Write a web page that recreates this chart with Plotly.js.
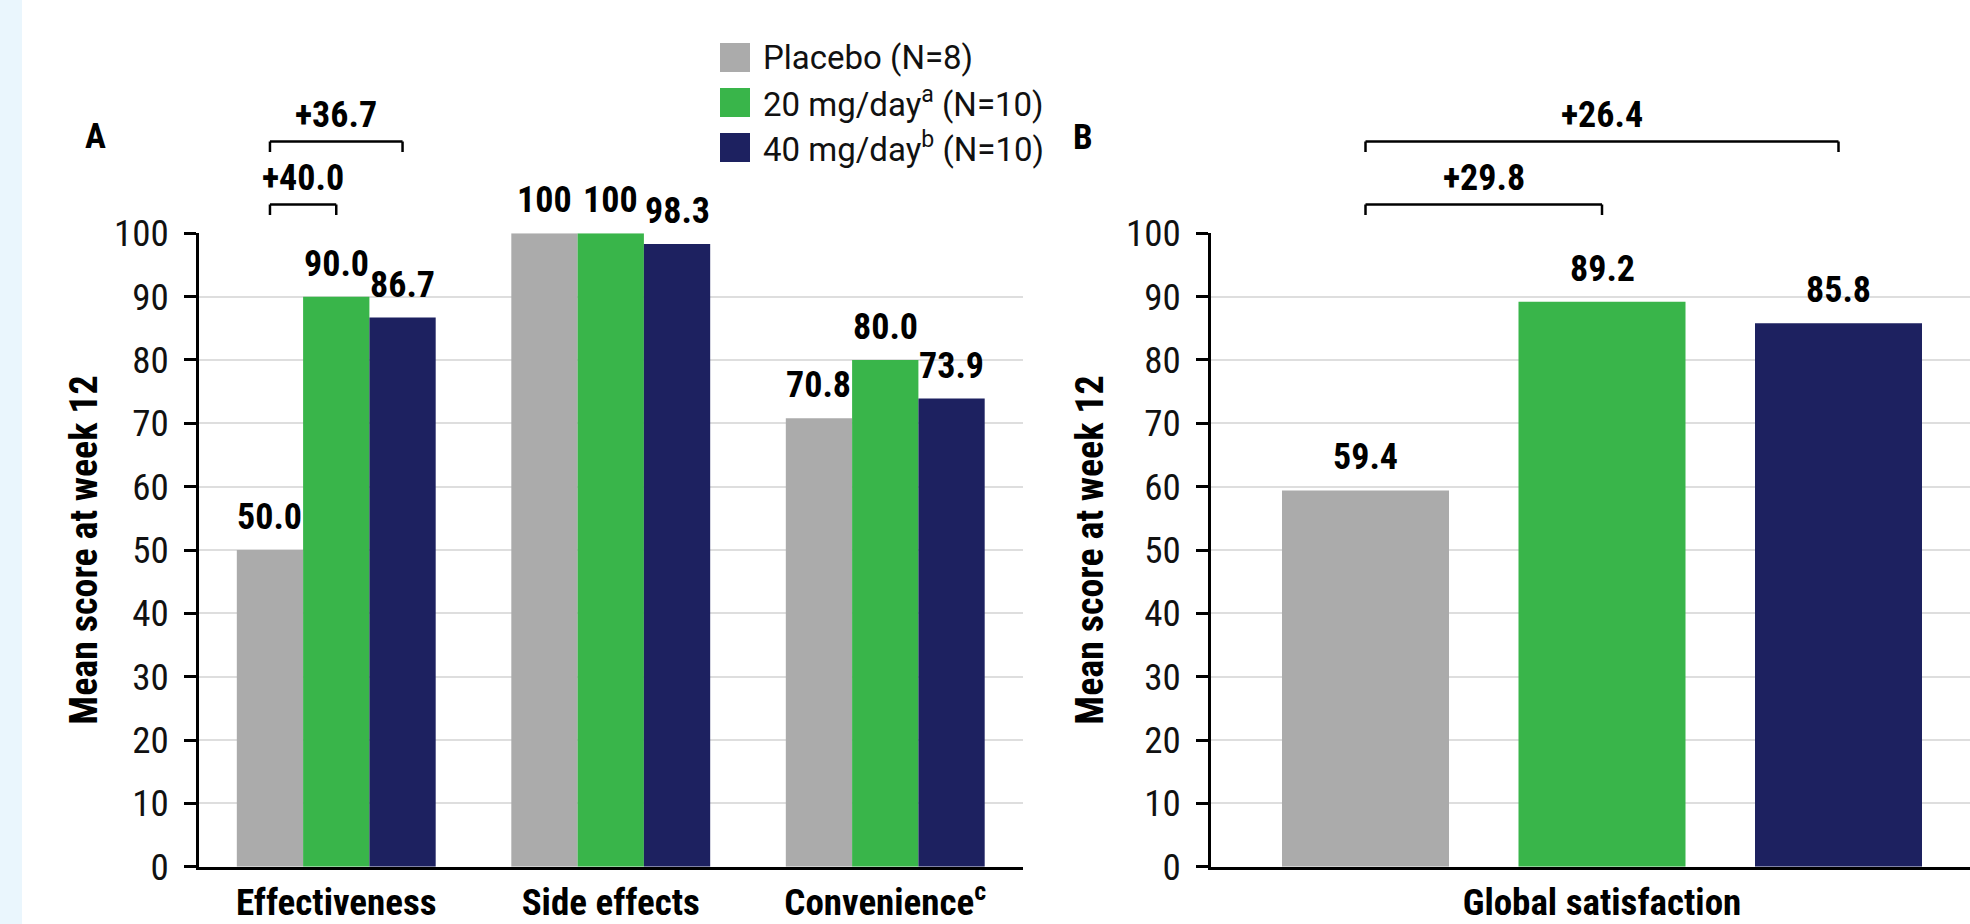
<!DOCTYPE html>
<html>
<head>
<meta charset="utf-8">
<script src="https://cdn.plot.ly/plotly-3.0.1.min.js"></script>
<style>
  html, body { margin: 0; padding: 0; background: #ffffff; overflow: hidden; }
  #chart { width: 1970px; height: 924px; }
</style>
</head>
<body>
<div id="chart"></div>
<script>
// ---------------- data ----------------
const categoriesA = ['Effectiveness', 'Side effects', 'Convenience<sup>c</sup>'];
const categoriesB = ['Global satisfaction'];
const seriesNames = ['Placebo (N=8)', '20 mg/day<sup>a</sup> (N=10)', '40 mg/day<sup>b</sup> (N=10)'];
const placeboA = [50.0, 100, 70.8];
const mg20A    = [90.0, 100, 80.0];
const mg40A    = [86.7, 98.3, 73.9];
const placeboB = [59.4];
const mg20B    = [89.2];
const mg40B    = [85.8];
const yTicks   = [0, 10, 20, 30, 40, 50, 60, 70, 80, 90, 100];
const yTitle   = 'Mean score at week 12';
const panelLabels = ['A', 'B'];

// ---------------- style ----------------
const W = 1970, H = 924;
const colors = ['#ABABAB', '#39B54A', '#1D2160'];
const COND = "'Roboto Condensed', 'Liberation Sans Narrow', 'DejaVu Sans Condensed', Roboto, sans-serif";
const REG = "Roboto, 'Noto Sans', sans-serif";
const px = x => x / W;
const py = y => 1 - y / H;

// left panel geometry
const xDomA = [px(199), px(1022.5)];
const barWA = 0.2415;               // fraction of category slot
const slotA = barWA;
// right panel geometry
const catWB = 782;                  // px of one category on panel B
const xDomB = [px(1211), 1];
const barWB = 167 / catWB;
const slotB = 236.5 / catWB;
const yDom = [py(866.7), py(233.3)];

const fmt = v => (v === 100 ? '100' : v.toFixed(1));
const seriesA = [placeboA, mg20A, mg40A];
const seriesB = [placeboB, mg20B, mg40B];

const traces = [];
const annotations = [];
const shapes = [];

function addPanel(series, cats, xa, ya, barW, slot) {
  series.forEach((vals, i) => {
    const centre = (i - 1) * slot;
    traces.push({
      type: 'bar',
      name: seriesNames[i],
      x: cats.map((c, k) => k),
      y: vals,
      xaxis: xa, yaxis: ya,
      width: barW,
      offset: centre - barW / 2,
      marker: { color: colors[i], line: { width: 0 } },
      showlegend: false,
      hoverinfo: 'skip'
    });
    vals.forEach((v, k) => {
      annotations.push({
        xref: xa, yref: ya, x: k + centre, y: v,
        xanchor: 'center', yanchor: 'bottom', yshift: 10,
        text: fmt(v), showarrow: false,
        font: { family: COND, size: 36, color: '#000', weight: 700 }
      });
    });
  });
}
addPanel(seriesA, categoriesA, 'x', 'y', barWA, slotA);
addPanel(seriesB, categoriesB, 'x2', 'y2', barWB, slotB);

// difference brackets (computed from data)
function bracket(xa, xL, xR, yTopPx, label) {
  const leg = 10.5;
  const ln = { color: '#000', width: 2.5 };
  shapes.push({ type: 'line', xref: xa, yref: 'paper', x0: xL, x1: xR, y0: py(yTopPx), y1: py(yTopPx), line: ln });
  shapes.push({ type: 'line', xref: xa, yref: 'paper', x0: xL, x1: xL, y0: py(yTopPx), y1: py(yTopPx + leg), line: ln });
  shapes.push({ type: 'line', xref: xa, yref: 'paper', x0: xR, x1: xR, y0: py(yTopPx), y1: py(yTopPx + leg), line: ln });
  annotations.push({
    xref: xa, yref: 'paper', x: (xL + xR) / 2, y: py(yTopPx - 3.7),
    xanchor: 'center', yanchor: 'bottom', text: label, showarrow: false,
    font: { family: COND, size: 36, color: '#000', weight: 700 }
  });
}
const diff = (a, b) => '+' + (a - b).toFixed(1);
bracket('x', 0 - slotA, 0, 204.5, diff(mg20A[0], placeboA[0]));
bracket('x', 0 - slotA, 0 + slotA, 141.5, diff(mg40A[0], placeboA[0]));
bracket('x2', 0 - slotB, 0, 204.5, diff(mg20B[0], placeboB[0]));
bracket('x2', 0 - slotB, 0 + slotB, 141.5, diff(mg40B[0], placeboB[0]));

// panel letters
annotations.push({ xref: 'paper', yref: 'paper', x: px(95), y: py(136), xanchor: 'center', yanchor: 'middle',
  text: panelLabels[0], showarrow: false, font: { family: COND, size: 35, color: '#000', weight: 700 } });
annotations.push({ xref: 'paper', yref: 'paper', x: px(1083), y: py(137), xanchor: 'center', yanchor: 'middle',
  text: panelLabels[1], showarrow: false, font: { family: COND, size: 35, color: '#000', weight: 700 } });

// custom legend (large swatches)
const legRows = [57.5, 102.5, 147.5];
seriesNames.forEach((n, i) => {
  shapes.push({ type: 'rect', xref: 'paper', yref: 'paper', x0: px(720), x1: px(750),
    y0: py(legRows[i] + 14.5), y1: py(legRows[i] - 14.5), fillcolor: colors[i], line: { width: 0 } });
  annotations.push({ xref: 'paper', yref: 'paper', x: px(761), y: py(legRows[i]), xanchor: 'left', yanchor: 'middle',
    text: n, showarrow: false, font: { family: REG, size: 33, color: '#111' } });
});

// light blue strip at the left edge
shapes.push({ type: 'rect', xref: 'paper', yref: 'paper', x0: 0, x1: px(22), y0: 0, y1: 1,
  fillcolor: '#EAF6FD', line: { width: 0 }, layer: 'below' });

function yAxis(anchor, standoff) {
  return {
    anchor: anchor,
    range: [0, 100], domain: yDom, tickvals: yTicks, ticktext: yTicks.map(String),
    ticks: 'outside', ticklen: 12, tickwidth: 2.5, tickcolor: '#000',
    showline: true, linecolor: '#000', linewidth: 2.5,
    showgrid: true, gridcolor: '#DEDEDE', gridwidth: 2, zeroline: false,
    tickfont: { family: COND, size: 37, color: '#111' },
    ticklabelstandoff: 8,
    title: { text: yTitle, standoff: standoff, font: { family: COND, size: 38, color: '#000', weight: 700 } },
    fixedrange: true
  };
}
const xAxisBase = {
  type: 'linear', showline: true, linecolor: '#000', linewidth: 3, ticks: '',
  showgrid: false, zeroline: false, fixedrange: true,
  tickfont: { family: COND, size: 37, color: '#000', weight: 700 },
  ticklabelstandoff: 1
};

const layout = {
  width: W, height: H,
  margin: { l: 0, r: 0, t: 0, b: 0 },
  paper_bgcolor: '#ffffff', plot_bgcolor: '#ffffff',
  barmode: 'overlay',
  showlegend: false,
  xaxis: Object.assign({}, xAxisBase, { domain: xDomA, anchor: 'y', range: [-0.5, categoriesA.length - 0.5],
    tickvals: categoriesA.map((c, k) => k), ticktext: categoriesA }),
  yaxis: yAxis('x', 5),
  xaxis2: Object.assign({}, xAxisBase, { domain: xDomB, anchor: 'y2', range: [-0.5, -0.5 + (W - 1211) / catWB],
    tickvals: categoriesB.map((c, k) => k), ticktext: categoriesB }),
  yaxis2: yAxis('x2', 11),
  annotations: annotations,
  shapes: shapes
};

Plotly.newPlot('chart', traces, layout, { displayModeBar: false, responsive: false });
</script>
</body>
</html>
